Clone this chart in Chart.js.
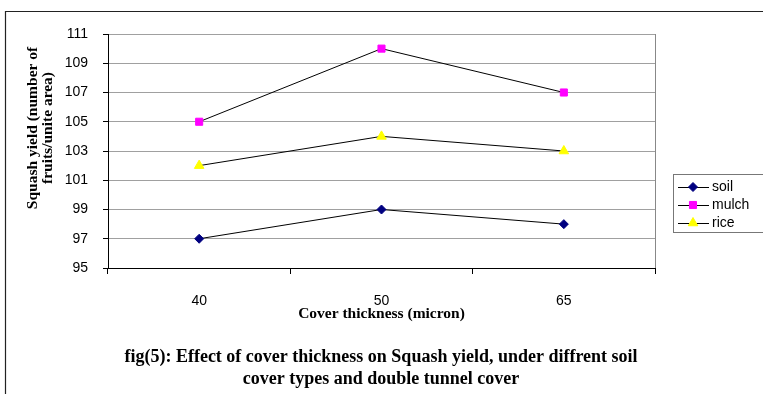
<!DOCTYPE html>
<html>
<head>
<meta charset="utf-8">
<script src="https://cdn.jsdelivr.net/npm/chart.js@4/dist/chart.umd.min.js"></script>
<style>
  html, body { margin: 0; padding: 0; background: #fff; }
  #wrap { width: 763px; height: 394px; position: relative; }
</style>
</head>
<body>
<div id="wrap"><canvas id="chart"></canvas></div>
<script>
// Data
const categories = ['40', '50', '65'];
const soilYield  = [97, 99, 98];
const mulchYield = [105, 110, 107];
const riceYield  = [102, 104, 103];

const yMin  = 95;
const yMax  = 111;
const yStep = 2;

const xTitle  = 'Cover thickness (micron)';
const yTitle  = ['Squash yield (number of', 'fruits/unite area)'];
const caption = [
  'fig(5): Effect of cover thickness on Squash yield, under diffrent soil',
  'cover types and double tunnel cover'
];

const serif    = '"Liberation Serif", "Times New Roman", serif';
const sansFont = '"Liberation Sans", Arial, sans-serif';

// Page frame, y title, caption and the Excel-style legend box
const decorPlugin = {
  id: 'decor',
  beforeDraw(chart) {
    const { ctx } = chart;
    ctx.save();
    ctx.fillStyle = '#fff';
    ctx.fillRect(0, 0, chart.width, chart.height);
    ctx.strokeStyle = '#222';
    ctx.lineWidth = 1.2;
    ctx.beginPath();
    ctx.moveTo(5.5, chart.height);
    ctx.lineTo(5.5, 11.5);
    ctx.lineTo(chart.width, 11.5);
    ctx.stroke();
    ctx.restore();
  },
  afterDraw(chart) {
    const { ctx, chartArea } = chart;
    ctx.save();

    // right border of plot area
    ctx.strokeStyle = '#888';
    ctx.lineWidth = 1;
    ctx.beginPath();
    ctx.moveTo(chartArea.right + 0.5, chartArea.top);
    ctx.lineTo(chartArea.right + 0.5, chartArea.bottom);
    ctx.stroke();

    // y axis title, two lines rotated
    ctx.fillStyle = '#000';
    ctx.font = 'bold 15.5px ' + serif;
    ctx.textAlign = 'center';
    ctx.textBaseline = 'middle';
    ctx.translate(33, 128);
    ctx.rotate(-Math.PI / 2);
    yTitle.forEach((line, i) => ctx.fillText(line, 0, i * 15));
    ctx.setTransform(1, 0, 0, 1, 0, 0);

    // caption under the chart
    ctx.font = 'bold 18px ' + serif;
    caption.forEach((line, i) => ctx.fillText(line, 381, 357 + i * 22));

    // legend
    const lx = 673, ly = 174;
    ctx.strokeStyle = '#777';
    ctx.lineWidth = 1;
    ctx.strokeRect(lx + 0.5, ly + 0.5, 120, 58);
    ctx.font = '14px ' + sansFont;
    ctx.textAlign = 'left';
    chart.data.datasets.forEach((ds, i) => {
      const y = ly + 13 + i * 18;
      ctx.strokeStyle = '#000';
      ctx.beginPath();
      ctx.moveTo(lx + 5, y + 0.5);
      ctx.lineTo(lx + 36, y + 0.5);
      ctx.stroke();
      ctx.fillStyle = ds.pointBackgroundColor;
      ctx.strokeStyle = ds.pointBorderColor;
      Chart.helpers.drawPoint(ctx, {
        pointStyle: ds.pointStyle,
        radius: ds.pointRadius,
        borderWidth: 1
      }, lx + 20, y);
      ctx.fillStyle = '#000';
      ctx.fillText(ds.label, lx + 39, y);
    });
    ctx.restore();
  }
};

function series(label, data, color, style, radius) {
  return {
    label,
    data,
    borderColor: '#000',
    borderWidth: 1,
    pointStyle: style,
    pointRadius: radius,
    pointHoverRadius: radius,
    pointBackgroundColor: color,
    pointBorderColor: color,
    pointBorderWidth: 1,
    tension: 0
  };
}

new Chart(document.getElementById('chart'), {
  type: 'line',
  data: {
    labels: categories,
    datasets: [
      series('soil',  soilYield,  '#000080', 'rectRot', 4.5),
      series('mulch', mulchYield, '#FF00FF', 'rect', 5),
      series('rice',  riceYield,  '#FFFF00', 'triangle', 5.5)
    ]
  },
  options: {
    responsive: true,
    maintainAspectRatio: false,
    animation: false,
    layout: { padding: { top: 34, right: 108, left: 0, bottom: 72 } },
    plugins: {
      legend: { display: false },
      tooltip: { enabled: false }
    },
    scales: {
      x: {
        offset: true,
        afterFit(s) { s.height = 54; },
        grid: {
          offset: true,
          drawOnChartArea: false,
          tickLength: 6,
          tickColor: '#000'
        },
        border: { color: '#000', width: 1 },
        ticks: { color: '#000', padding: 19, font: { family: sansFont, size: 14 } },
        title: {
          display: true,
          text: xTitle,
          color: '#000',
          padding: { top: 0, bottom: 0 },
          font: { family: serif, size: 15.5, weight: 'bold', lineHeight: 1 }
        }
      },
      y: {
        min: yMin,
        max: yMax,
        afterFit(s) { s.width = 108; },
        grid: {
          color: '#a0a0a0',
          tickLength: 5,
          tickColor: '#000'
        },
        border: { color: '#000', width: 1 },
        ticks: {
          stepSize: yStep,
          color: '#000',
          padding: 15,
          font: { family: sansFont, size: 14 }
        }
      }
    }
  },
  plugins: [decorPlugin]
});
</script>
</body>
</html>
